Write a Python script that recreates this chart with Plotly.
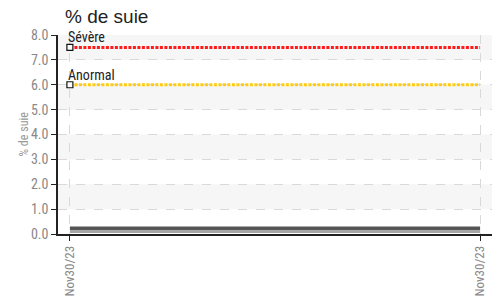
import plotly.graph_objects as go

# Data
dates = ["Nov30/23", "Nov30/23"]
soot_values = [0.22, 0.22]
soot_base = [0.08, 0.08]
severe_level = 7.5
abnormal_level = 6.0
threshold_names = ["Sévère", "Anormal"]
y_ticks = [0, 1, 2, 3, 4, 5, 6, 7, 8]

xs = list(range(len(dates)))
cond = "Liberation Sans Narrow, Roboto Condensed, DejaVu Sans Condensed, Arial Narrow, sans-serif"

W, H = 492, 293  # page has an 8px body margin

fig = go.Figure()

# alternating bands
shapes = []
for lo in range(1, 8, 2):
    shapes.append(dict(type="rect", xref="paper", yref="y", x0=0, x1=1, y0=lo, y1=lo + 1,
                       fillcolor="#f6f6f6", line=dict(width=0), layer="below"))

fig.add_trace(go.Scatter(x=xs, y=soot_base, mode="lines",
                         line=dict(color="#888888", width=1.5), hoverinfo="skip", showlegend=False))
fig.add_trace(go.Scatter(x=xs, y=soot_values, mode="lines",
                         line=dict(color="#555555", width=4), showlegend=False))

for lvl, col, name in [(severe_level, "#ff1a1a", threshold_names[0]),
                       (abnormal_level, "#ffcc11", threshold_names[1])]:
    fig.add_trace(go.Scatter(x=xs, y=[lvl] * len(xs), mode="lines",
                             line=dict(color=col, width=3, dash="3px,1.5px"), showlegend=False))
    fig.add_trace(go.Scatter(x=[xs[0]], y=[lvl], mode="markers",
                             marker=dict(symbol="square", size=6, color="white",
                                         line=dict(color="#111111", width=1.2)),
                             showlegend=False))
    fig.add_annotation(x=xs[0], y=lvl, text=name, showarrow=False, xanchor="left",
                       yanchor="bottom", xshift=-3, yshift=1, borderpad=0,
                       font=dict(family=cond, size=14, color="#222222"))

# y-axis title as annotation for exact placement
fig.add_annotation(xref="paper", yref="paper", x=0, y=0.5, xshift=-35, text="% de suie",
                   textangle=-90, showarrow=False, xanchor="center", yanchor="middle",
                   font=dict(family=cond, size=12, color="#999999"))

# chart title as annotation, kept inside the page
fig.add_annotation(xref="paper", yref="paper", x=0, y=1, xshift=6, yshift=30,
                   text="% de suie", showarrow=False, xanchor="left", yanchor="top",
                   borderpad=0,
                   font=dict(family="Liberation Sans, Arial, sans-serif", size=19, color="#222222"))

fig.update_layout(
    width=W, height=H,
    margin=dict(l=50, r=8, t=27, b=67),
    paper_bgcolor="white", plot_bgcolor="white",
    shapes=shapes,
    xaxis=dict(range=[-0.029, 1.029], tickmode="array", tickvals=xs, ticktext=dates,
               tickangle=-90, ticks="outside", ticklen=5, tickcolor="#222222",
               showline=True, linecolor="#222222", linewidth=1.5, automargin=False,
               showgrid=True, gridcolor="#d9d9d9", griddash="dash", zeroline=False,
               tickfont=dict(family=cond, size=13, color="#888888")),
    yaxis=dict(range=[0, 8], tickmode="array", tickvals=y_ticks,
               ticktext=[f"{v:.1f}" for v in y_ticks],
               ticks="outside", ticklen=5, tickcolor="#222222",
               showline=True, linecolor="#222222", linewidth=1.5, automargin=False,
               showgrid=True, gridcolor="#d9d9d9", griddash="dash", zeroline=False,
               tickfont=dict(family=cond, size=14, color="#888888")),
)

fig.write_html("out.html")
